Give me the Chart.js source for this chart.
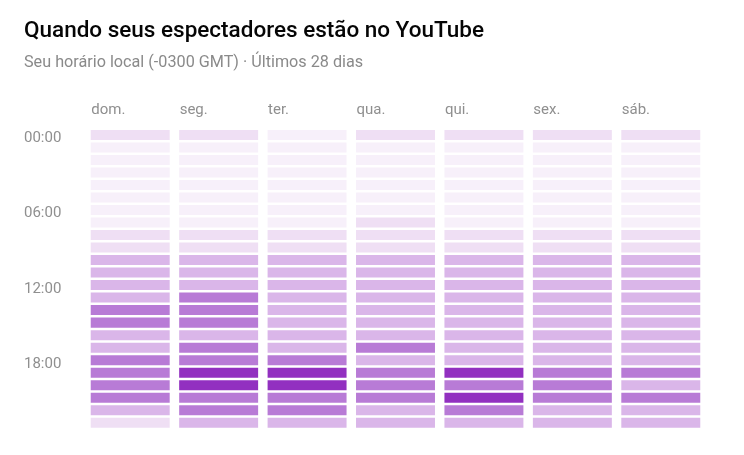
<!DOCTYPE html>
<html>
<head>
<meta charset="utf-8">
<script src="https://cdn.jsdelivr.net/npm/chart.js@4/dist/chart.umd.min.js"></script>
<style>
  html, body { margin: 0; padding: 0; background: #fff; }
  #wrap { width: 744px; height: 455px; position: relative; }
</style>
</head>
<body>
<div id="wrap"><canvas id="heat"></canvas></div>
<script>
'use strict';

// ── Data ─────────────────────────────────────────────────────────────────────
const days = ['dom.', 'seg.', 'ter.', 'qua.', 'qui.', 'sex.', 'sáb.'];
const hourTicks = ['00:00', '06:00', '12:00', '18:00'];

// activity level per hour (0..23) for each day, 0 = lowest, 4 = highest
const domLevels = [1,0,0,0,0,0,0,0,1,1,2,2, 2,2,3,3,2,2,3,3,3,3,2,1];
const segLevels = [1,0,0,0,0,0,0,0,1,1,2,2, 2,3,3,3,2,3,3,4,4,3,3,2];
const terLevels = [0,0,0,0,0,0,0,0,1,1,2,2, 2,2,2,2,2,2,3,4,4,3,3,2];
const quaLevels = [1,0,0,0,0,0,0,1,1,1,2,2, 2,2,2,2,2,3,2,3,3,3,2,2];
const quiLevels = [1,0,0,0,0,0,0,0,1,1,2,2, 2,2,2,2,2,2,2,4,3,4,3,2];
const sexLevels = [1,0,0,0,0,0,0,0,1,1,2,2, 2,2,2,2,2,2,2,3,3,3,2,2];
const sabLevels = [1,0,0,0,0,0,0,0,1,1,2,2, 2,2,2,2,2,2,2,3,2,3,2,2];

const levelColors = ['#f7f0fa', '#efdff4', '#dab6e9', '#b87bd6', '#9230c0'];

// ── Build one dataset per hour ───────────────────────────────────────────────
const byDay = [domLevels, segLevels, terLevels, quaLevels, quiLevels, sexLevels, sabLevels];
const datasets = [];
for (let h = 0; h < 24; h++) {
  datasets.push({
    label: h + 'h',
    data: days.map(() => [h + 0.1, h + 0.9]),
    backgroundColor: byDay.map(lv => levelColors[lv[h]]),
    borderWidth: 0,
    grouped: false,
    categoryPercentage: 0.893,
    barPercentage: 1,
  });
}

// ── Chart ────────────────────────────────────────────────────────────────────
const font = "Roboto, 'Noto Sans', sans-serif";

new Chart(document.getElementById('heat'), {
  type: 'bar',
  data: { labels: days, datasets },
  options: {
    responsive: true,
    maintainAspectRatio: false,
    animation: false,
    events: [],
    layout: { padding: { left: 24, right: 39, top: 0, bottom: 26 } },
    plugins: {
      legend: { display: false },
      tooltip: { enabled: false },
      title: {
        display: true,
        text: 'Quando seus espectadores estão no YouTube',
        align: 'start',
        color: '#050505',
        font: { family: font, size: 22.5, weight: '500' },
        padding: { top: 18.2, bottom: 8.5 },
      },
      subtitle: {
        display: true,
        text: 'Seu horário local (-0300 GMT) · Últimos 28 dias',
        align: 'start',
        color: '#8a8a8a',
        font: { family: font, size: 16.2, weight: '400' },
        padding: { top: 0, bottom: 0 },
      },
    },
    scales: {
      x: {
        type: 'category',
        position: 'top',
        offset: true,
        grid: { display: false, drawTicks: false },
        border: { display: false },
        afterFit: (axis) => { axis.height = 55.5; },
        ticks: {
          align: 'start',
          labelOffset: -39,
          padding: 9,
          color: '#8f8f8f',
          font: { family: font, size: 15 },
          maxRotation: 0,
          autoSkip: false,
        },
      },
      y: {
        type: 'linear',
        min: 0,
        max: 24,
        reverse: true,
        grid: { display: false, drawTicks: false },
        border: { display: false },
        afterBuildTicks: (axis) => {
          axis.ticks = hourTicks.map((t, i) => ({ value: i * 6 + 0.8 }));
        },
        afterFit: (axis) => { axis.width = 62; },
        ticks: {
          crossAlign: 'far',
          padding: 0,
          color: '#8f8f8f',
          font: { family: font, size: 15 },
          callback: (v) => hourTicks[Math.round((v - 0.8) / 6)],
        },
      },
    },
  },
});
</script>
</body>
</html>
